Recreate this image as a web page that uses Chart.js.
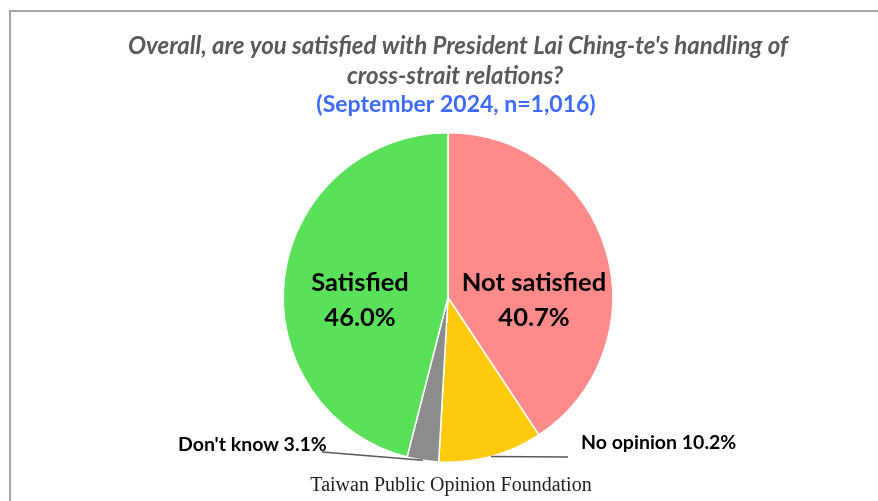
<!DOCTYPE html>
<html>
<head>
<meta charset="utf-8">
<script src="https://cdn.jsdelivr.net/npm/chart.js@4/dist/chart.umd.min.js"></script>
<style>
  html, body { margin: 0; padding: 0; background: #fff; }
  #wrap { position: relative; width: 878px; height: 501px; }
</style>
</head>
<body>
<div id="wrap"><canvas id="pieChart" width="878" height="501"></canvas></div>
<script>
// survey shares, clockwise from 12 o'clock
var categories = ['Not satisfied', 'No opinion', "Don't know", 'Satisfied'];
var shares = [40.7, 10.2, 3.1, 46.0];
var sliceColors = ['#ff8a8a', '#ffcb0c', '#8c8c8c', '#59e159'];

var titleLines = ["Overall, are you satisfied with President Lai Ching-te's handling of", 'cross-strait relations?'];
var subtitle = '(September 2024, n=1,016)';
var source = 'Taiwan Public Opinion Foundation';

var sansFont = "Lato, 'Open Sans', sans-serif";

// text inside the big slices, and outside labels with leader lines for the small ones
var labelPlugin = {
  id: 'labels',
  beforeDraw: function (chart) {
    var ctx = chart.ctx;
    ctx.save();
    ctx.strokeStyle = '#a3a3a3';
    ctx.lineWidth = 2;
    ctx.beginPath();
    ctx.moveTo(10, 501);
    ctx.lineTo(10, 11);
    ctx.lineTo(878, 11);
    ctx.stroke();
    ctx.restore();
  },
  afterDraw: function (chart) {
    var ctx = chart.ctx;
    var arcs = chart.getDatasetMeta(0).data;
    ctx.save();
    ctx.textAlign = 'center';
    ctx.textBaseline = 'middle';

    ctx.fillStyle = '#595959';
    ctx.font = "italic bold 24px " + sansFont;
    ctx.fillText(titleLines[0], 458, 46);
    ctx.fillText(titleLines[1], 455, 76);

    ctx.fillStyle = '#3d6bff';
    ctx.font = "bold 23px " + sansFont;
    ctx.fillText(subtitle, 456, 105);

    ctx.fillStyle = '#1e1e1e';
    ctx.font = "20px 'Liberation Serif', 'DejaVu Serif', serif";
    ctx.fillText(source, 451, 486);

    // inside labels
    ctx.fillStyle = '#000';
    ctx.font = "bold 25.5px " + sansFont;
    var inside = [[0, 86, 0], [3, -88, 0]];
    inside.forEach(function (it) {
      var a = arcs[it[0]];
      var cx = a.x + it[1], cy = a.y + it[2];
      ctx.fillText(categories[it[0]], cx, cy - 15);
      ctx.fillText(shares[it[0]].toFixed(1) + '%', cx, cy + 20);
    });

    // outside labels with leader lines from the slice edge
    ctx.font = "bold 19.5px " + sansFont;
    var outside = [
      { i: 2, lx: 322, ly: 452, tx: 178, ty: 445 },
      { i: 1, lx: 568, ly: 457, tx: 581, ty: 443 }
    ];
    outside.forEach(function (o) {
      var a = arcs[o.i];
      var mid = (a.startAngle + a.endAngle) / 2;
      var ex = a.x + Math.cos(mid) * a.outerRadius;
      var ey = a.y + Math.sin(mid) * a.outerRadius;
      ctx.strokeStyle = '#595959';
      ctx.lineWidth = 1.5;
      ctx.beginPath();
      ctx.moveTo(o.lx, o.ly);
      ctx.lineTo(ex, ey);
      ctx.stroke();
      ctx.textAlign = 'left';
      ctx.fillStyle = '#000';
      ctx.fillText(categories[o.i] + ' ' + shares[o.i].toFixed(1) + '%', o.tx, o.ty);
    });
    ctx.restore();
  }
};

var ctx = document.getElementById('pieChart').getContext('2d');
new Chart(ctx, {
  type: 'pie',
  data: {
    labels: categories,
    datasets: [{
      data: shares,
      backgroundColor: sliceColors,
      borderColor: '#ffffff',
      borderWidth: 1.5
    }]
  },
  options: {
    responsive: false,
    animation: false,
    layout: { padding: { top: 132, bottom: 38, left: 100, right: 82 } },
    plugins: {
      legend: { display: false },
      tooltip: { enabled: false }
    }
  },
  plugins: [labelPlugin]
});
</script>
</body>
</html>
